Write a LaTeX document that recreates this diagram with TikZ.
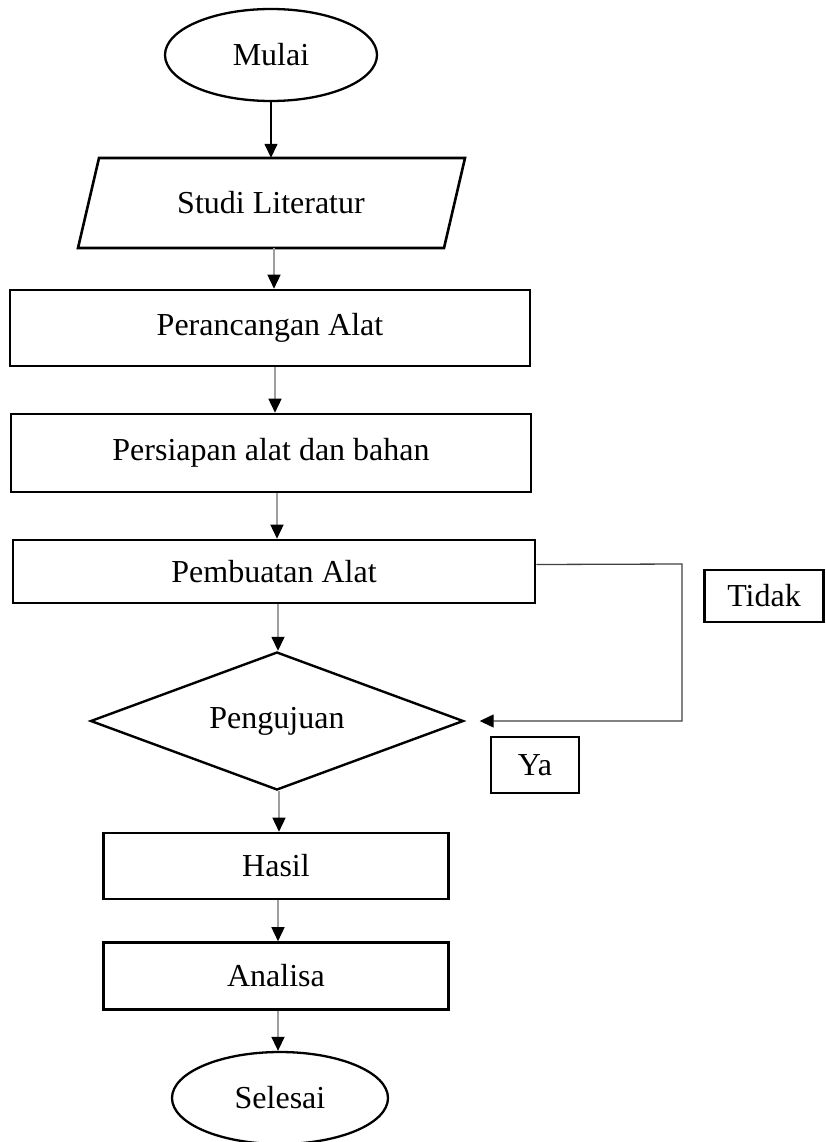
\documentclass[tikz,border=0pt]{standalone}
\usepackage{fontspec}
\setmainfont{Liberation Serif}
\usetikzlibrary{shapes.geometric,arrows.meta}
\begin{document}
\begin{tikzpicture}[x=1pt,y=-1pt,
  every node/.style={font=\fontsize{32}{37}\selectfont, inner sep=0pt},
  boxnode/.style={draw, line width=2.6pt, rectangle},
  termnode/.style={draw, line width=2.3pt, ellipse, minimum width=212pt, minimum height=92pt},
  flow/.style={draw=gray!75, line width=1.5pt, -{Triangle[length=14pt,width=13pt,black]}},
  firstflow/.style={draw=black, line width=1.5pt, -{Triangle[length=14pt,width=13pt,black]}},
  back/.style={draw=black!75, line width=1.3pt, -{Triangle[length=14pt,width=13pt,black]}}
]
\useasboundingbox (0,0) rectangle (825,1142);
\clip (0,0) rectangle (825,1142);

\node[termnode] (mulai) at (271,55) {Mulai};

% parallelogram
\node[minimum width=345pt, minimum height=90pt] (studi) at (271,203) {Studi Literatur};
\draw[line width=2.6pt] (99,158) -- (465,158) -- (444,248) -- (78,248) -- cycle;

\node[boxnode, minimum width=520pt, minimum height=76pt] (peranc) at (270,328) {Perancangan Alat};
\node[boxnode, minimum width=520pt, minimum height=78pt] (persiap) at (271,453) {Persiapan alat dan bahan};
\node[boxnode, minimum width=522pt, minimum height=63pt] (pemb) at (274,571.5) {Pembuatan Alat};

\node[draw, line width=2.4pt, diamond, aspect=2.7, minimum width=373pt, minimum height=138pt] (uji) at (277,721) {Pengujuan};

\node[boxnode, minimum width=345pt, minimum height=66pt] (hasil) at (276,866) {Hasil};
\node[boxnode, minimum width=345pt, minimum height=67pt] (analisa) at (276,976) {Analisa};

\node[termnode, minimum width=216pt, minimum height=92pt] (selesai) at (280,1098) {Selesai};

\node[boxnode, minimum width=119pt, minimum height=52pt] (tidak) at (764,596) {Tidak};
\node[boxnode, minimum width=88pt, minimum height=56pt] (ya) at (535,765) {Ya};

\draw[firstflow] (mulai.south) -- (mulai.south |- studi.north);
\draw[flow] ([xshift=3pt]studi.south) -- ([xshift=3pt]studi.south |- peranc.north);
\draw[flow] ([xshift=5pt]peranc.south) -- ([xshift=5pt]peranc.south |- persiap.north);
\draw[flow] ([xshift=6pt]persiap.south) -- ([xshift=6pt]persiap.south |- pemb.north);
\draw[flow] ([xshift=4pt]pemb.south) -- ([xshift=4pt]pemb.south |- uji.north);
\draw[flow] ([xshift=2pt]uji.south) -- ([xshift=2pt]uji.south |- hasil.north);
\draw[flow] ([xshift=2pt]hasil.south) -- ([xshift=2pt]hasil.south |- analisa.north);
\draw[flow] ([xshift=2pt]analisa.south) -- ([xshift=2pt]analisa.south |- selesai.north);

\coordinate (corner) at (682,564);
\draw[back] ([yshift=7pt]pemb.east) -- (corner) |- ([xshift=15pt]uji.east);
\end{tikzpicture}
\end{document}
